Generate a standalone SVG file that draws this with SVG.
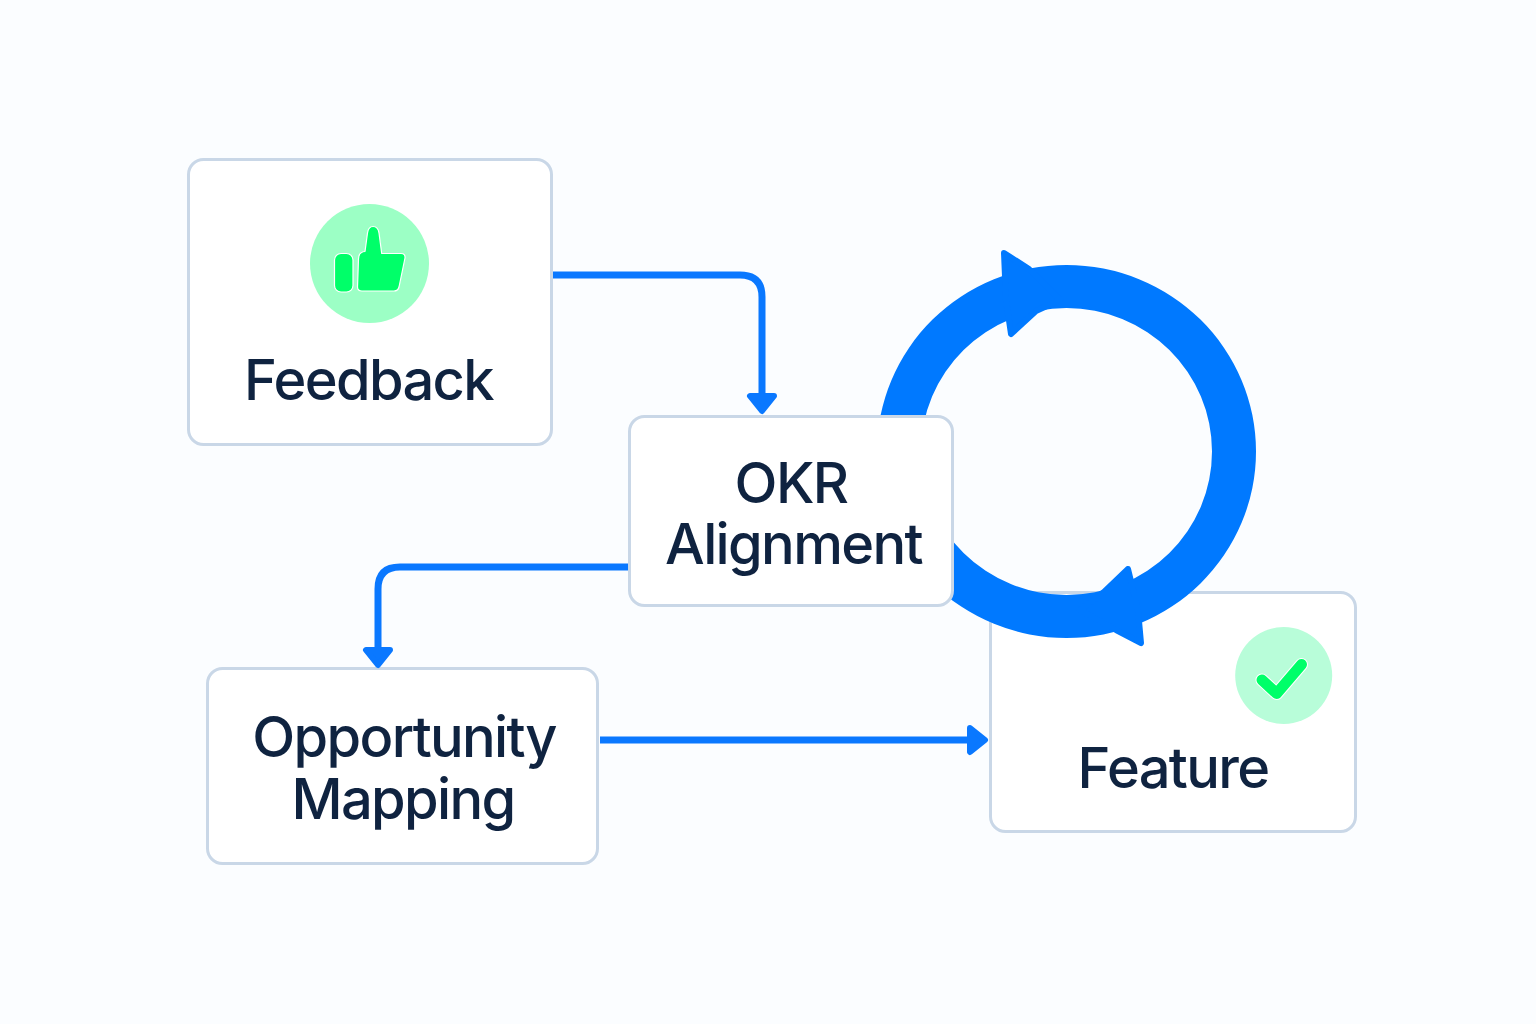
<svg xmlns="http://www.w3.org/2000/svg" width="1536" height="1024" viewBox="0 0 1536 1024">
<style>
.box{fill:#fff;stroke:#c9d7e7;stroke-width:3}
.lbl{font-family:"Inter","Liberation Sans",sans-serif;font-size:56px;font-weight:500;letter-spacing:-1.65px;fill:#0f2340;text-anchor:middle}
.link{fill:none;stroke:#0a78ff;stroke-width:7}
.ring,.hd{fill:#0079ff}
.ic{fill:#00ff69;stroke:#fff;stroke-width:1.2;stroke-linejoin:round}
</style>
<defs>
<marker id="ah" markerUnits="userSpaceOnUse" markerWidth="30" markerHeight="36" refX="1" refY="16" orient="auto" viewBox="0 0 30 32">
<path d="M3 4L18 16L3 28Z" fill="#0a78ff" stroke="#0a78ff" stroke-width="6" stroke-linejoin="round"/>
</marker>
</defs>
<rect width="1536" height="1024" fill="#fbfdff"/>
<g id="node-feedback">
<rect class="box" x="188.500" y="159.500" width="363" height="285" rx="15"/>
<circle cx="369.500" cy="263.500" r="59.500" fill="#9cffc5"/>
<rect class="ic" x="334.500" y="253.500" width="18.500" height="38.500" rx="6.500"/>
<path class="ic" d="M358.500 259Q358.500 252 365 251.500L367.500 233Q368.500 226.500 373 226.500Q378 226.500 379 233L381.700 253.500H401Q405.500 253.500 405 258L399 287Q398 291 394 291H362Q357.500 291 357.500 287Z"/>
<text class="lbl" x="368.500" y="400">Feedback</text>
</g>
<g id="node-feature">
<rect class="box" x="990.500" y="592.500" width="365" height="239" rx="15"/>
<circle cx="1283.700" cy="675.500" r="48.500" fill="#b8fdd9"/>
<path d="M1262 680L1276.700 693.500L1301.500 664.500" fill="none" stroke="#fff" stroke-width="13" stroke-linecap="round" stroke-linejoin="round"/>
<path d="M1262 680L1276.700 693.500L1301.500 664.500" fill="none" stroke="#00ff69" stroke-width="11" stroke-linecap="round" stroke-linejoin="round"/>
<text class="lbl" x="1173" y="788">Feature</text>
</g>
<g id="node-opportunity">
<rect class="box" x="207.500" y="668.500" width="390" height="195" rx="15"/>
<text class="lbl" x="404" y="757">Opportunity</text>
<text class="lbl" x="403" y="819">Mapping</text>
</g>
<g id="connectors">
<path class="ring" fill-rule="evenodd" d="M877 451.500A189.500 186.500 0 1 1 1256 451.500A189.500 186.500 0 1 1 877 451.500ZM921 451.500A145.500 143.500 0 1 0 1212 451.500A145.500 143.500 0 1 0 921 451.500Z"/>
<path class="hd" stroke="#0079ff" stroke-width="6" stroke-linejoin="round" d="M1004 253L1029 269L1060 300L1036 311L1011 334L1006 300Z"/>
<path class="hd" stroke="#0079ff" stroke-width="6" stroke-linejoin="round" d="M1128 569L1104 592L1080 610L1116 630L1141 643L1138 610Z"/>
<path class="link" marker-end="url(#ah)" d="M553 275H740Q762 275 762 297V394"/>
<path class="link" marker-end="url(#ah)" d="M629 567H400Q378 567 378 589V648"/>
<path class="link" marker-end="url(#ah)" d="M600 740H968"/>
</g>
<g id="node-okr">
<rect class="box" x="629.500" y="416.500" width="323" height="189" rx="15"/>
<text class="lbl" x="791" y="503">OKR</text>
<text class="lbl" x="793.500" y="564">Alignment</text>
</g>
</svg>
